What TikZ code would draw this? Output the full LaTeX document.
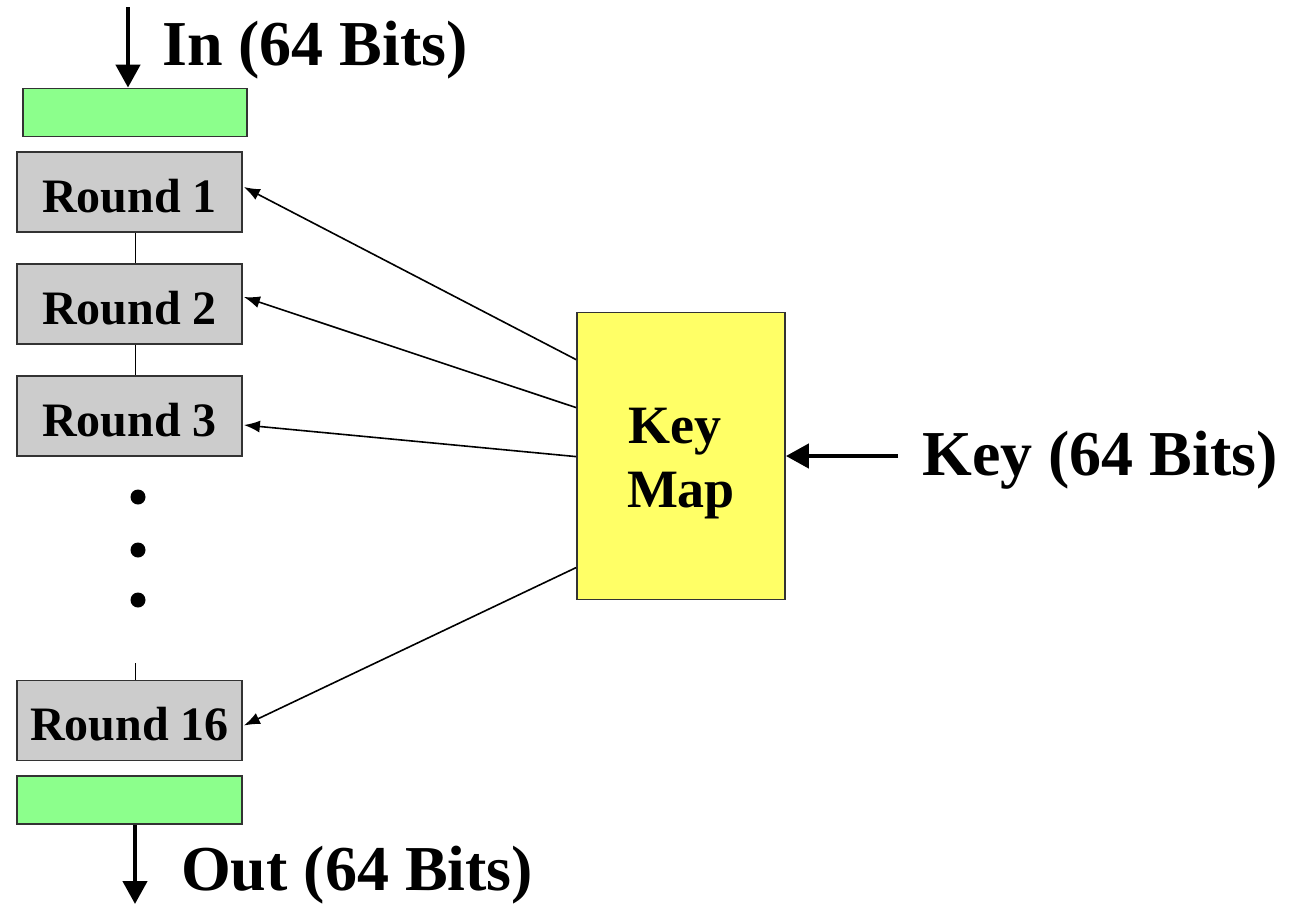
\documentclass[tikz,border=0pt]{standalone}
\usepackage{fontspec}
\setmainfont{Liberation Serif}
\usetikzlibrary{arrows.meta,calc}
\definecolor{regfill}{HTML}{8CFF8C}
\definecolor{roundfill}{HTML}{CCCCCC}
\definecolor{keyfill}{HTML}{FFFF66}
\definecolor{edge}{HTML}{333333}
\tikzset{
  roundbox/.style={draw=edge, line width=1.8pt, fill=roundfill, minimum width=225pt, minimum height=80pt,
    inner sep=0pt, text height=40pt, text depth=0pt, font=\fontsize{48}{52}\selectfont\bfseries},
  regbox/.style={draw=edge, line width=1.8pt, fill=regfill, minimum height=48pt, inner sep=0pt},
  bigtext/.style={font=\fontsize{64}{68}\selectfont\bfseries, inner sep=0pt, anchor=base west},
  maptext/.style={font=\fontsize{54}{60}\selectfont\bfseries, inner sep=0pt, anchor=base},
  feed/.style={line width=1.6pt, -{Latex[length=16pt,width=12pt]}},
  thick arrow/.style={line width=4.5pt, -{Triangle[length=23pt,width=24pt]}},
  link/.style={line width=1.5pt},
}
\begin{document}
\begin{tikzpicture}[x=1pt,y=-1pt]
\useasboundingbox (0,0) rectangle (1296,905);
% input / output registers
\node[regbox, minimum width=224pt] (inreg) at (135,112.5) {};
\node[regbox, minimum width=225pt] (outreg) at (129.5,800) {};
% rounds
\node[roundbox] (r1) at (129.5,192) {Round 1};
\node[roundbox] (r2) at (129.5,304) {Round 2};
\node[roundbox] (r3) at (129.5,416) {Round 3};
\node[roundbox] (r16) at (129.5,720.5) {Round 16};
% links between rounds
\draw[link] ($(r1.south)+(6,0)$) -- ($(r2.north)+(6,0)$);
\draw[link] ($(r2.south)+(6,0)$) -- ($(r3.north)+(6,0)$);
\coordinate (stub) at (135.5,663);
\draw[link] (stub) -- ($(r16.north)+(6,0)$);
% ellipsis dots
\foreach \y in {497,550,600} \fill (138,\y) circle (7.5pt);
% key map
\node[draw=edge, line width=1.8pt, fill=keyfill, minimum width=208pt, minimum height=287pt, inner sep=0pt] (km) at (681,456) {};
\node[maptext] (kmkey) at (675,443) {Key};
\node[maptext] (kmmap) at (681,507) {Map};
% sub-key feeds
\coordinate (k1) at ($(km.north west)+(0,48)$);
\coordinate (k2) at ($(km.north west)+(0,96)$);
\coordinate (k3) at ($(km.north west)+(0,145)$);
\coordinate (k16) at ($(km.north west)+(0,256)$);
\draw[feed] (k1) -- ($(r1.east)+(1,-5)$);
\draw[feed] (k2) -- ($(r2.east)+(1,-7)$);
\draw[feed] (k3) -- ($(r3.east)+(1,9)$);
\draw[feed] (k16) -- ($(r16.east)+(1,5)$);
% input, output and key arrows
\coordinate (intop) at (128,7);
\draw[thick arrow] (intop) -- (inreg.north -| intop);
\coordinate (outbot) at (135,904);
\draw[thick arrow] (outreg.south -| outbot) -- (outbot);
\coordinate (keysrc) at (898,456);
\draw[thick arrow] (keysrc) -- (km.east |- keysrc);
% labels
\node[bigtext] (inlbl) at (162,65) {In (64 Bits)};
\node[bigtext] (outlbl) at (181,890) {Out (64 Bits)};
\node[bigtext] (keylbl) at (922,475) {Key (64 Bits)};
\end{tikzpicture}
\end{document}
